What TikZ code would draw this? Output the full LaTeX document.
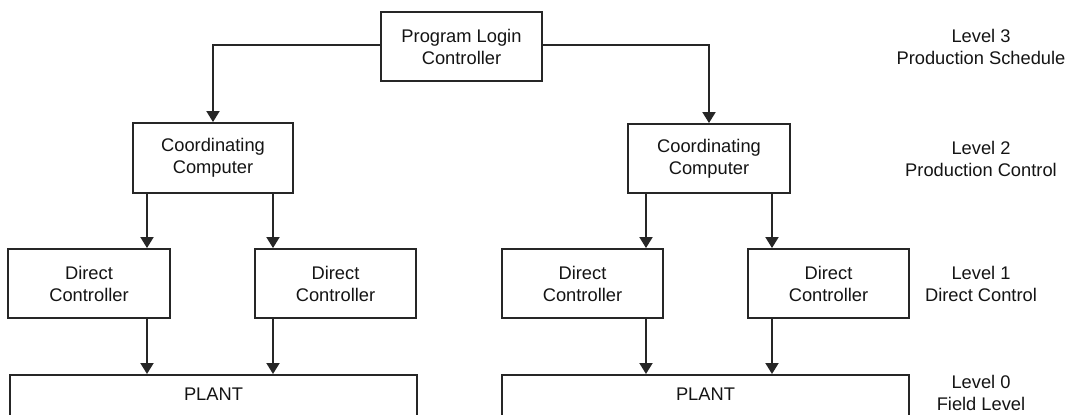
\documentclass[tikz,border=0pt]{standalone}
\usepackage{fontspec}
\setmainfont{Liberation Sans}
\usetikzlibrary{arrows.meta}
\definecolor{linec}{HTML}{262626}
\definecolor{textc}{HTML}{141414}
\begin{document}
\begin{tikzpicture}[x=1pt,y=-1pt,
  every node/.style={font=\fontsize{18.3pt}{22pt}\selectfont, text=textc},
  blk/.style={draw=linec, line width=1.9pt, fill=white, align=center, inner sep=0pt, minimum height=69pt},
  plantbox/.style={draw=linec, line width=1.9pt, fill=white, inner xsep=0pt, inner ysep=12.4pt, text height=13.1pt, text depth=30pt, minimum width=407pt, anchor=north},
  lvl/.style={align=center, inner sep=0pt},
  arr/.style={draw=linec, line width=1.9pt, -{Triangle[width=13pt,length=11pt]}}
]
\useasboundingbox (0,0) rectangle (1072,415);
\clip (0,0) rectangle (1072,415);

% boxes
\node[blk, minimum width=161pt] (top) at (461.5,46.5) {Program Login\\Controller};
\node[blk, minimum width=160pt, minimum height=70pt] (cL) at (213,158) {Coordinating\\Computer};
\node[blk, minimum width=162pt] (cR) at (709,158.5) {Coordinating\\Computer};
\node[blk, minimum width=162pt] (dL1) at (89,283.5) {Direct\\Controller};
\node[blk, minimum width=161pt] (dL2) at (335.5,283.5) {Direct\\Controller};
\node[blk, minimum width=161pt] (dR1) at (582.5,283.5) {Direct\\Controller};
\node[blk, minimum width=161pt] (dR2) at (828.5,283.5) {Direct\\Controller};
\node[plantbox] (pL) at (213.5,374) {PLANT};
\node[plantbox] (pR) at (705.5,374) {PLANT};

% level labels
\node[lvl] (l3) at (981,46.5) {Level 3\\Production Schedule};
\node[lvl] (l2) at (981,159) {Level 2\\Production Control};
\node[lvl] (l1) at (981,284) {Level 1\\Direct Control};
\node[lvl] (l0) at (981,393) {Level 0\\Field Level};

% arrow x positions
\coordinate (xa) at (147,0);
\coordinate (xb) at (273,0);
\coordinate (xc) at (646,0);
\coordinate (xd) at (772,0);

% connectors
\draw[arr] (top.west |- 0,45) -| (cL.north);
\draw[arr] (top.east |- 0,45) -| (cR.north);

\draw[arr] (cL.south -| xa) -- (dL1.north -| xa);
\draw[arr] (cL.south -| xb) -- (dL2.north -| xb);
\draw[arr] (cR.south -| xc) -- (dR1.north -| xc);
\draw[arr] (cR.south -| xd) -- (dR2.north -| xd);

\draw[arr] (dL1.south -| xa) -- (pL.north -| xa);
\draw[arr] (dL2.south -| xb) -- (pL.north -| xb);
\draw[arr] (dR1.south -| xc) -- (pR.north -| xc);
\draw[arr] (dR2.south -| xd) -- (pR.north -| xd);
\end{tikzpicture}
\end{document}
